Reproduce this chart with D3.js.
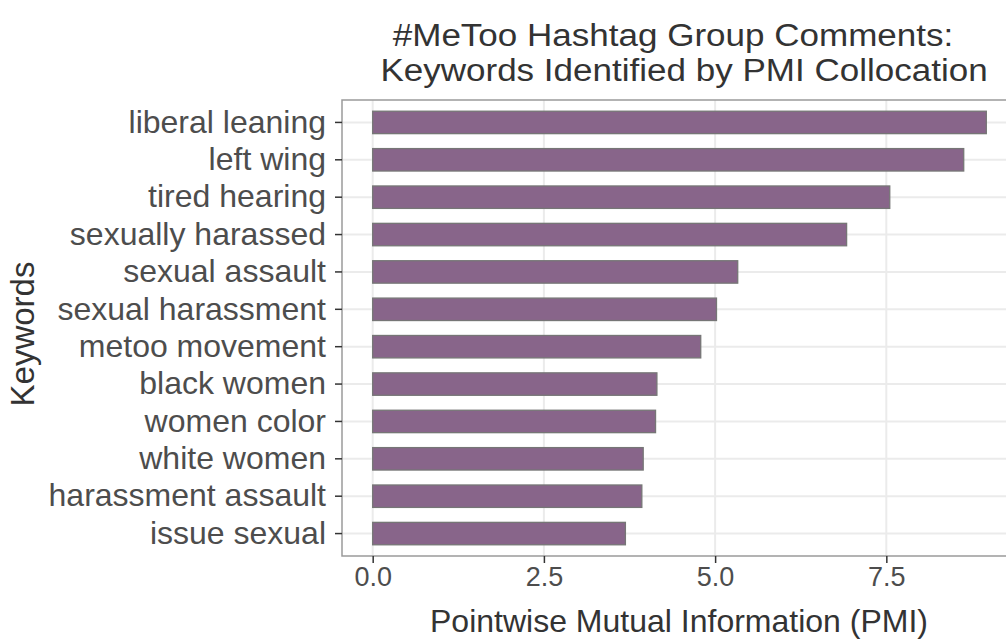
<!DOCTYPE html>
<html>
<head>
<meta charset="utf-8">
<script src="https://cdn.jsdelivr.net/npm/d3@7"></script>
<style>
  html, body { margin: 0; padding: 0; background: #fff; }
  svg { display: block; font-family: "Liberation Sans", Arial, sans-serif; }
</style>
</head>
<body>
<svg id="chart" width="1006" height="639"></svg>
<script>
const keywords = ["liberal leaning", "left wing", "tired hearing", "sexually harassed", "sexual assault",
  "sexual harassment", "metoo movement", "black women", "women color", "white women",
  "harassment assault", "issue sexual"];
const pmi = [8.96, 8.63, 7.55, 6.92, 5.33, 5.02, 4.79, 4.15, 4.13, 3.95, 3.93, 3.69];
const xTicks = [0, 2.5, 5, 7.5];
const titleLines = ["#MeToo Hashtag Group Comments:", "Keywords Identified by PMI Collocation"];
const xLabel = "Pointwise Mutual Information (PMI)";
const yLabel = "Keywords";

const svg = d3.select("#chart");
const panel = { left: 342, top: 100, right: 1017, bottom: 556 };

const maxV = d3.max(pmi);
const pad = 0.05 * maxV;
const x = d3.scaleLinear().domain([-pad, maxV + pad]).range([panel.left, panel.right]);
const y = d3.scaleBand().domain(keywords).range([panel.top, panel.bottom]).paddingInner(0.4).paddingOuter(0.3);

// panel background
svg.append("rect").attr("x", panel.left).attr("y", panel.top)
  .attr("width", panel.right - panel.left).attr("height", panel.bottom - panel.top)
  .attr("fill", "#fff");

// grid
const grid = svg.append("g");
grid.selectAll("line.v").data(xTicks).join("line")
  .attr("x1", d => x(d)).attr("x2", d => x(d))
  .attr("y1", panel.top).attr("y2", panel.bottom)
  .attr("stroke", "#ebebeb").attr("stroke-width", 2);
grid.selectAll("line.h").data(keywords).join("line")
  .attr("x1", panel.left).attr("x2", panel.right)
  .attr("y1", d => y(d) + y.bandwidth() / 2).attr("y2", d => y(d) + y.bandwidth() / 2)
  .attr("stroke", "#ebebeb").attr("stroke-width", 2);

// bars
svg.append("g").selectAll("rect").data(keywords).join("rect")
  .attr("x", x(0))
  .attr("y", d => y(d))
  .attr("width", (d, i) => x(pmi[i]) - x(0))
  .attr("height", y.bandwidth())
  .attr("fill", "#88658A")
  .attr("stroke", "#767676")
  .attr("stroke-width", 1.3);

// panel border
svg.append("rect").attr("x", panel.left).attr("y", panel.top)
  .attr("width", panel.right - panel.left).attr("height", panel.bottom - panel.top)
  .attr("fill", "none").attr("stroke", "#9a9a9a").attr("stroke-width", 1.5);

// x axis
const xAxis = d3.axisBottom(x).tickValues(xTicks).tickFormat(d3.format(".1f")).tickSize(7).tickPadding(4);
const gx = svg.append("g").attr("transform", `translate(0,${panel.bottom})`).call(xAxis);
gx.select(".domain").remove();
gx.selectAll(".tick line").attr("stroke", "#333").attr("stroke-width", 1.5);
gx.selectAll(".tick text").attr("fill", "#4d4d4d").style("font-size", "27px")
  .style("font-family", "'Liberation Sans', Arial, sans-serif");

// y axis
const yAxis = d3.axisLeft(y).tickSize(7).tickPadding(9);
const gy = svg.append("g").attr("transform", `translate(${panel.left},0)`).call(yAxis);
gy.select(".domain").remove();
gy.selectAll(".tick line").attr("stroke", "#333").attr("stroke-width", 1.5);
gy.selectAll(".tick text").attr("fill", "#4d4d4d").style("font-size", "32px")
  .style("font-family", "'Liberation Sans', Arial, sans-serif");

// axis titles
svg.append("text").attr("x", 679).attr("y", 632).attr("text-anchor", "middle")
  .attr("fill", "#333").style("font-size", "32px").text(xLabel);
svg.append("text").attr("transform", "translate(34,334) rotate(-90)").attr("text-anchor", "middle")
  .attr("fill", "#333").style("font-size", "33px").text(yLabel);

// title: two lines, slightly wide glyphs as in the reference
const titlePos = [{ cx: 673, y: 46 }, { cx: 684, y: 81 }];
titleLines.forEach((t, i) => {
  svg.append("text")
    .attr("transform", `translate(${titlePos[i].cx},${titlePos[i].y}) scale(1.13,1)`)
    .attr("text-anchor", "middle").attr("fill", "#333").style("font-size", "31px")
    .text(t);
});
</script>
</body>
</html>
